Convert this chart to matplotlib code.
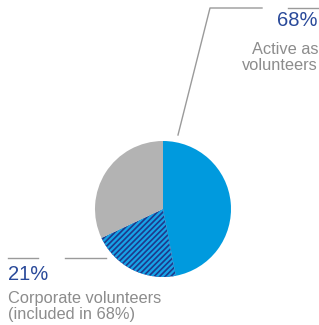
import matplotlib.pyplot as plt

# share of respondents, clockwise from 12 o'clock
segments = ["Active (not corporate)", "Corporate volunteers", "Not active"]
shares = [47, 21, 32]
colors = ["#009ADE", "#1E3A8C", "#B3B3B3"]

active_label = "68%"
active_lines = ["Active as", "volunteers"]
corp_label = "21%"
corp_lines = ["Corporate volunteers", "(included in 68%)"]

NAVY = "#2A4A9A"
GREY_TXT = "#8C8C8C"
LINE = "#9A9A9A"

plt.rcParams["font.family"] = ["Liberation Sans", "DejaVu Sans"]
plt.rcParams["hatch.linewidth"] = 1.6

W, H = 319, 325
fig = plt.figure(figsize=(W / 100, H / 100), dpi=100)
ax = fig.add_axes([0, 0, 1, 1])


def py(y):
    # pixel row -> data y
    return H - y


wedges, _ = ax.pie(
    shares,
    colors=colors,
    startangle=90,
    counterclock=False,
    center=(163, py(209)),
    radius=68,
    wedgeprops={"linewidth": 0},
    frame=True,
)
ax.axis("off")
ax.set_xlim(0, W)
ax.set_ylim(0, H)
wedges[1].set_hatch("//////")
wedges[1].set_edgecolor("#16A3E6")
wedges[1].set_linewidth(0)

# leader lines
ax.plot([178, 210, 262], [py(135), py(8), py(8)], color=LINE, lw=1)
ax.plot([288, 319], [py(8), py(8)], color=LINE, lw=1)
ax.plot([8, 38], [py(258), py(258)], color=LINE, lw=1)
ax.plot([65, 106], [py(258), py(258)], color=LINE, lw=1)

ax.text(318, py(21), active_label, ha="right", va="center", fontsize=14.5, color=NAVY)
for txt, y in zip(active_lines, [49, 66]):
    ax.text(318, py(y), txt, ha="right", va="center", fontsize=11.8, color=GREY_TXT)

ax.text(8, py(275), corp_label, ha="left", va="center", fontsize=14.5, color=NAVY)
for txt, y in zip(corp_lines, [298, 315]):
    ax.text(8, py(y), txt, ha="left", va="center", fontsize=11.8, color=GREY_TXT)

fig.savefig("out.png", dpi=100)
